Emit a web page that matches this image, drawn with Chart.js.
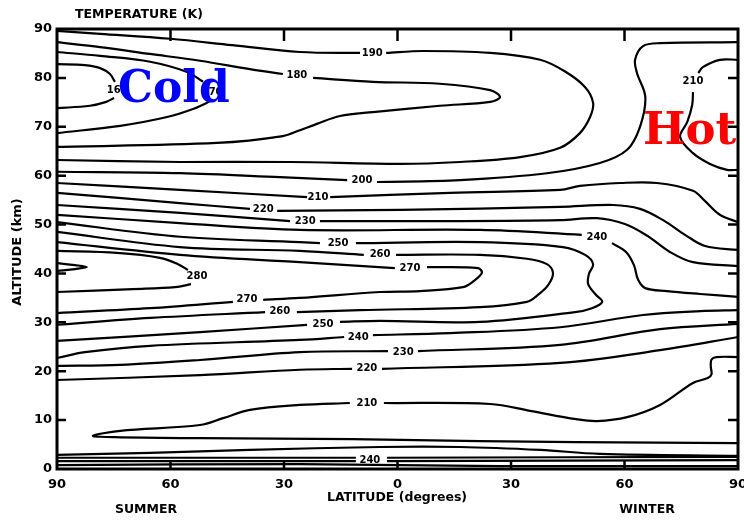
<!DOCTYPE html>
<html><head><meta charset="utf-8">
<script src="https://cdn.jsdelivr.net/npm/chart.js@4.4.1/dist/chart.umd.min.js"></script>
<style>html,body{margin:0;padding:0;background:#fff;}#wrap{width:744px;height:521px;}</style>
</head><body><div id="wrap"><canvas id="c" width="744" height="521"></canvas></div>
<script>
// Latitude (summer negative, winter positive) vs altitude (km); null = gap for an inline label
const iso160 = [[-90,82.8],[-82.6,82.6],[-78.6,82.0],[-76.0,80.8],[-74.7,79.2],null,[-74.9,75.9],[-77.0,75.1],[-81.3,74.3],[-90,73.8]];
const iso170 = [[-90,85.3],[-78.6,84.5],[-65.4,83.3],[-55.6,81.2],[-51.4,79.2],null,[-49.3,75.3],[-53.5,73.8],[-60.9,72.0],[-73.3,70.2],[-90,68.7]];
const iso180 = [[-90,87.3],[-78.6,86.3],[-65.4,84.9],[-52.2,83.5],[-39.0,81.8],[-30.3,80.8],null,[-22.3,80.0],[-6.5,79.2],[11.2,78.8],[24.5,77.5],[27.1,76.1],[24.5,75.1],[11.2,74.3],[-6.5,73.0],[-15.2,72.2],[-21.3,70.6],[-25.8,69.3],[-30.3,68.1],[-47.7,66.7],[-90,65.9]];
const iso190 = [[-90,89.6],[-78.6,89.0],[-60.1,88.0],[-43.7,86.7],[-25.8,85.3],[-9.9,85.1],null,[-3.0,85.1],[6.7,85.5],[24.5,85.1],[37.7,83.7],[44.3,81.3],[49.6,78.1],[51.7,74.9],[50.9,72.0],[48.2,68.7],[43.0,65.7],[32.4,63.8],[16.5,62.8],[0.7,62.4],[-28.4,62.8],[-57.5,62.8],[-90,63.2]];
const iso200 = [[-90,60.8],[-57.5,60.5],[-31.1,59.7],[-13.3,59.1],null,[-5.4,58.7],[16.5,59.1],[39.5,60.5],[53.5,62.6],[60.7,65.3],[64.1,70.0],[65.5,76.1],[63.3,81.0],[62.8,83.7],[64.9,86.5],[69.4,87.1],[90,87.3]];
const iso210hot = [[90,83.7],[85.2,83.7],[80.7,82.2],[79.5,81.0],null,[78.1,77.1],[77.9,74.5],[76.6,71.0],[74.7,67.9],[78.1,64.6],[82.6,62.4],[87.1,61.2],[90,61.2]];
const iso210 = [[-90,58.5],[-57.5,57.1],[-23.9,55.6],null,[-17.8,55.6],[13.9,56.5],[43.0,57.1],[48.2,57.9],[58.8,58.5],[68.6,58.5],[78.1,56.9],[81.3,54.8],[85.2,52.0],[90,50.5]];
const iso220 = [[-90,56.5],[-57.5,54.4],[-39.0,53.2],null,[-31.8,52.8],[0.7,53.0],[43.0,53.6],[57.0,54.0],[64.1,53.2],[70.2,50.9],[76.0,47.9],[81.3,45.6],[90,44.8]];
const iso230 = [[-90,54.0],[-57.5,52.4],[-28.4,50.7],null,[-20.5,50.7],[13.9,50.7],[43.0,50.9],[52.7,51.3],[60.1,50.1],[66.0,47.7],[72.0,44.4],[78.1,42.3],[90,41.5]];
const iso240 = [[-90,52.0],[-57.5,50.3],[-25.8,48.9],[21.8,48.9],[48.7,47.9],null,[56.7,46.2],[60.4,44.4],[62.5,41.7],[63.6,38.7],[65.5,37.0],[71.2,36.4],[80.0,35.8],[90,35.2]];
const iso250 = [[-90,50.5],[-57.5,47.5],[-25.8,46.4],[-20.5,46.2],null,[-11.0,46.2],[21.8,46.4],[43.7,45.4],[49.6,43.8],[51.7,41.9],[50.6,39.9],[50.4,37.8],[52.5,35.6],[54.1,34.2],[51.4,32.9],[46.9,32.1],[21.8,30.1],[-4.6,30.3],[-15.2,30.1],null,[-23.9,29.5],[-52.2,28.0],[-90,26.2]];
const iso260 = [[-90,48.5],[-57.5,45.4],[-25.8,44.6],[-8.9,43.8],null,[-0.4,43.8],[21.8,43.8],[34.2,43.0],[39.5,41.9],[41.1,40.1],[39.8,37.6],[37.1,35.6],[34.2,34.2],[21.8,33.1],[-9.9,32.5],[-26.6,32.1],null,[-35.0,32.1],[-65.4,30.9],[-90,29.5]];
const iso270 = [[-90,46.4],[-57.5,43.8],[-25.8,42.3],[-0.7,41.1],null,[7.8,41.3],[21.3,41.1],[22.3,40.1],[20.2,38.5],[17.3,37.2],[5.9,36.4],[-4.6,36.2],[-25.8,35.0],[-35.5,34.6],null,[-43.5,34.2],[-65.4,32.9],[-90,31.9]];
const iso280 = [[-90,44.6],[-74.1,44.2],[-62.8,43.2],[-58.0,41.9],[-55.4,40.7],null,[-54.6,37.8],[-58.8,37.2],[-69.9,36.8],[-90,36.2]];
const iso290 = [[-90,42.1],[-85.2,41.7],[-82.1,41.3],[-85.2,40.9],[-90,40.5]];
const iso240low = [[-90,22.7],[-82.6,23.9],[-65.4,25.2],[-25.8,26.4],[-14.1,27.0],null,[-6.5,27.4],[13.9,27.8],[43.0,29.0],[64.9,31.5],[80.0,32.3],[90,32.5]];
const iso230low = [[-90,21.1],[-73.3,21.3],[-52.2,22.3],[-25.8,23.9],[-2.5,24.1],null,[5.4,24.1],[43.0,25.4],[69.4,28.6],[90,29.7]];
const iso220low = [[-90,18.2],[-52.2,19.2],[-25.8,20.3],[-12.0,20.5],null,[-4.1,20.5],[43.0,21.7],[69.4,24.3],[90,27.0]];
const iso210low = [[90,22.9],[84.3,22.9],[83.0,22.4],[82.8,21.0],[83.0,19.4],[82.0,18.6],[78.1,17.6],[69.4,13.1],[60.7,10.6],[52.7,9.8],[47.2,10.2],[35.0,11.9],[24.5,13.3],[-3.6,13.5],null,[-12.6,13.5],[-25.8,13.1],[-39.0,12.1],[-46.1,10.4],[-52.2,9.0],[-73.3,7.8],[-80.5,6.8],[-74.7,6.5],[-52.2,6.3],[-12.0,6.1],[21.8,5.7],[47.2,5.5],[90,5.3]];
const isoSurf1 = [[-90,2.9],[-65.4,3.3],[-39.0,3.9],[-4.6,4.5],[16.5,4.5],[37.7,3.9],[53.5,3.1],[90,2.7]];
const isoSurf2 = [[-90,2.3],[-11.0,2.3],null,[-2.8,2.3],[90,2.5]];
const isoSurf3 = [[-90,1.6],[-11.0,1.6],null,[-2.8,1.6],[90,1.8]];
const isoSurf4 = [[-90,0.8],[-25.8,1.0],[27.1,0.6],[90,0.6]];

// inline contour labels: text, latitude, altitude
const isoLabels = [["160",-74.1,77.5],["170",-49.0,77.1],["180",-26.6,80.6],["190",-6.7,85.1],["200",-9.4,59.1],
 ["210",-21.0,55.6],["220",-35.5,53.2],["230",-24.4,50.7],["240",52.7,47.3],["250",-15.7,46.2],["260",-4.6,43.8],
 ["270",3.3,41.1],["280",-53.0,39.3],["270",-39.8,34.6],["260",-31.1,32.3],["250",-19.7,29.5],["240",-10.4,27.0],
 ["230",1.5,23.9],["220",-8.1,20.5],["210",-8.1,13.5],["240",-7.3,1.8],["210",78.1,79.2]];

const xTicks = [-90,-60,-30,0,30,60,90];
const yTicks = [0,10,20,30,40,50,60,70,80,90];

const lines = [iso160,iso170,iso180,iso190,iso200,iso210hot,iso210,iso220,iso230,iso240,iso250,iso260,iso270,iso280,iso290,
  iso240low,iso230low,iso220low,iso210low,isoSurf1,isoSurf2,isoSurf3,isoSurf4];

function toPoints(arr){
  const out=[]; let last=null;
  arr.forEach(p=>{ if(p){out.push({x:p[0],y:p[1]}); last=p;} else {out.push({x:last?last[0]:0,y:null});} });
  return out;
}

const datasets = lines.map(l=>({data:toPoints(l),showLine:true,borderColor:'#000',borderWidth:2.2,
  pointRadius:0,fill:false,tension:0.35,spanGaps:false}));

const deco = {
  id:'deco',
  afterDatasetsDraw(chart){
    const {ctx,chartArea:a,scales:{x,y}} = chart;
    ctx.save();
    ctx.strokeStyle='#000'; ctx.lineWidth=3;
    ctx.strokeRect(a.left,a.top,a.right-a.left,a.bottom-a.top);
    ctx.lineWidth=2.5;
    ctx.beginPath();
    yTicks.forEach(v=>{ if(v===0||v===90) return; const py=y.getPixelForValue(v);
      ctx.moveTo(a.left,py); ctx.lineTo(a.left+9,py); ctx.moveTo(a.right,py); ctx.lineTo(a.right-10,py); });
    xTicks.forEach(v=>{ if(v===-90||v===90) return; const px=x.getPixelForValue(v);
      ctx.moveTo(px,a.top); ctx.lineTo(px,a.top+12); ctx.moveTo(px,a.bottom); ctx.lineTo(px,a.bottom-8); });
    ctx.stroke();
    // contour labels
    ctx.fillStyle='#000'; ctx.font='bold 10px "DejaVu Sans"'; ctx.textAlign='center'; ctx.textBaseline='middle';
    isoLabels.forEach(l=>ctx.fillText(l[0],x.getPixelForValue(l[1]),y.getPixelForValue(l[2])));
    // titles
    ctx.font='bold 12.5px "DejaVu Sans"'; ctx.textAlign='left';
    ctx.fillText('TEMPERATURE (K)',75,15);
    ctx.textAlign='center';
    ctx.fillText('LATITUDE (degrees)',397,498);
    ctx.fillText('SUMMER',146,510);
    ctx.fillText('WINTER',647,510);
    ctx.save(); ctx.translate(18,252); ctx.rotate(-Math.PI/2); ctx.font='bold 13px "DejaVu Sans"';
    ctx.fillText('ALTITUDE (km)',0,0); ctx.restore();
    // annotations
    ctx.textAlign='left'; ctx.textBaseline='alphabetic';
    ctx.font='bold 44px "DejaVu Serif"';
    ctx.fillStyle='#0000ff'; ctx.fillText('Cold',118,102);
    ctx.font='bold 45px "DejaVu Serif"';
    ctx.fillStyle='#ff0000'; ctx.fillText('Hot',643,144);
    ctx.restore();
  }
};

new Chart(document.getElementById('c'),{
  type:'scatter',
  data:{datasets},
  options:{
    responsive:false, animation:false, devicePixelRatio:1,
    layout:{padding:{top:29,right:6,left:0,bottom:0},autoPadding:false},
    plugins:{legend:{display:false},tooltip:{enabled:false}},
    scales:{
      x:{type:'linear',min:-90,max:90,
         afterBuildTicks(s){s.ticks=xTicks.map(v=>({value:v}));},
         ticks:{callback:v=>Math.abs(v),font:{family:'DejaVu Sans',weight:'bold',size:13},color:'#000',padding:8,maxRotation:0,autoSkip:false},
         grid:{display:false,drawTicks:false},border:{display:false},
         afterFit(s){s.height=52;s.paddingLeft=0;s.paddingRight=0;}},
      y:{type:'linear',min:0,max:90,
         afterBuildTicks(s){s.ticks=yTicks.map(v=>({value:v}));},
         ticks:{font:{family:'DejaVu Sans',weight:'bold',size:13},color:'#000',padding:5,autoSkip:false},
         grid:{display:false,drawTicks:false},border:{display:false},
         afterFit(s){s.width=57;s.paddingTop=0;s.paddingBottom=0;}}
    }
  },
  plugins:[deco]
});
</script></body></html>
